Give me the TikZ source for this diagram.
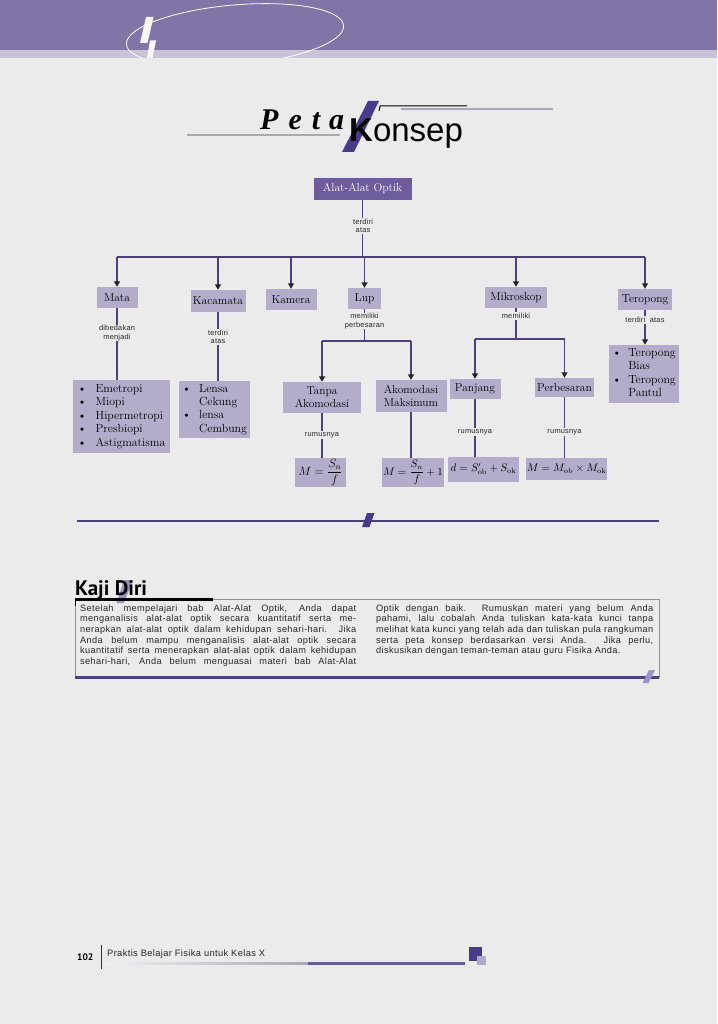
\documentclass[tikz,border=0pt]{standalone}
\usepackage{amsmath}
\usepackage{fontspec}
\usetikzlibrary{arrows.meta}
\newfontfamily\lblfont[LetterSpace=3]{Liberation Sans}
\newfontfamily\kjfont[LetterSpace=4]{Liberation Sans}
\newfontfamily\kjtitle{PT Sans}
\newfontfamily\petafont{Liberation Serif}
\newfontfamily\konfont{Liberation Sans}
\definecolor{pagebg}{HTML}{EBEBEB}
\definecolor{topc}{HTML}{8274A6}
\definecolor{bandc}{HTML}{C8C3D7}
\definecolor{boxc}{HTML}{B4ACCB}
\definecolor{rootc}{HTML}{6F5C9D}
\definecolor{linec}{HTML}{4E3F7F}
\definecolor{darkpur}{HTML}{4A3A8A}
\definecolor{lightpur}{HTML}{9D92C2}
\definecolor{greyline}{HTML}{A9A8B8}
\newcommand\boxfont{\fontsize{11.5}{13.2}\selectfont}
\tikzset{
  bx/.style={fill=boxc, inner sep=1pt, align=center, font=\boxfont},
  fx/.style={bx, font=\fontsize{12}{14}\selectfont},
  fxs/.style={bx, font=\fontsize{10.5}{12}\selectfont},
  lbl/.style={fill=pagebg, inner sep=0.8pt, align=center, font=\lblfont\fontsize{7.4}{8.2}\selectfont, text=black!85},
  ln/.style={draw=linec, line width=1.5pt},
  arr/.style={ln, -{Triangle[width=6pt,length=5.5pt,color=black!85]}},
  kj/.style={inner sep=0pt, anchor=north west, align=justify, font=\kjfont\fontsize{9.2}{10.6}\selectfont, text=black!85}
}
\begin{document}
\begin{tikzpicture}[x=1pt,y=-1pt]
\useasboundingbox (0,0) rectangle (717,1024);
\fill[pagebg] (0,0) rectangle (717,1024);
% header
\fill[topc] (0,0) rectangle (717,50);
\fill[bandc] (0,50) rectangle (717,58);
\begin{scope}
\clip (0,0) rectangle (717,58);
\draw[white, line width=0.8pt, rotate around={5:(235,35)}] (235,35) ellipse [x radius=109, y radius=30];
\end{scope}
\fill[white!93!gray] (146,17) -- (153.5,17) -- (147.5,43) -- (140,43) -- cycle;
\fill[white!93!gray] (150,40.5) -- (156,40.5) -- (152.5,58) -- (147,58) -- cycle;
% title
\draw[greyline, line width=2pt] (187,135) -- (340,135);
\fill[darkpur] (368,101) -- (379,101) -- (354,152) -- (342,152) -- cycle;
\node[anchor=base west, inner sep=0pt, font=\petafont\bfseries\itshape\fontsize{30}{30}\selectfont] (peta) at (260,130) {P\hspace{10pt}e\hspace{10pt}t\hspace{9pt}a};
\node[anchor=base west, inner sep=0pt, font=\konfont\fontsize{33}{33}\selectfont] (konsep) at (349,142) {\textbf{K}onsep};
\draw[black, line width=1pt] (379,111) -- (380,106) -- (467,106);
\draw[greyline, line width=2.2pt] (401,109) -- (553,109);
% concept map
\node[bx, fill=rootc, text=white, minimum width=98, minimum height=22] (root) at (362.5,189) {Alat-Alat Optik};
\node[bx, minimum width=41, minimum height=21] (mata) at (117,297.5) {Mata};
\node[bx, minimum width=55, minimum height=22] (kaca) at (218,301) {Kacamata};
\node[bx, minimum width=51, minimum height=21] (kamera) at (291,299.5) {Kamera};
\node[bx, minimum width=33, minimum height=21] (lup) at (364.5,298.5) {Lup};
\node[bx, minimum width=62, minimum height=21] (mikro) at (516,297.5) {Mikroskop};
\node[bx, minimum width=54, minimum height=21] (tero) at (645,299.5) {Teropong};
\coordinate (bus) at (363,257);
\draw[ln] (root.south) -- (root.south |- bus);
\draw[ln] (mata.north |- bus) -- (tero.north |- bus);
\foreach \n in {mata,kaca,kamera,lup,mikro,tero} \draw[arr] (\n.north |- bus) -- (\n.north);
\node[lbl] (l0) at (363,226) {terdiri\\atas};
% Mata
\node[bx, minimum width=97, minimum height=73, font=\fontsize{11.8}{13.6}\selectfont] (matalist) at (121.5,416.5)
 {\begin{tabular}{@{}l@{\hspace{9pt}}l@{}}\textbullet&Emetropi\\ \textbullet&Miopi\\ \textbullet&Hipermetropi\\ \textbullet&Presbiopi\\ \textbullet&Astigmatisma\end{tabular}};
\draw[ln] (mata.south) -- (mata.south |- matalist.north);
\node[lbl] (l1) at (117,333) {dibedakan\\menjadi};
% Kacamata
\node[bx, minimum width=71, minimum height=57, font=\fontsize{11.8}{13.4}\selectfont] (kacalist) at (214.5,409.5)
 {\begin{tabular}{@{}l@{\hspace{8pt}}l@{}}\textbullet&Lensa\\ &Cekung\\ \textbullet&lensa\\ &Cembung\end{tabular}};
\draw[ln] (kaca.south) -- (kaca.south |- kacalist.north);
\node[lbl] (l2) at (218,337) {terdiri\\atas};
% Lup
\node[bx, minimum width=78, minimum height=31] (tanpa) at (322,397.5) {Tanpa\\Akomodasi};
\node[bx, minimum width=71, minimum height=32] (akmaks) at (411,396) {Akomodasi\\Maksimum};
\coordinate (lupbus) at (364.5,341);
\draw[ln] (lup.south) -- (lupbus);
\draw[ln] (tanpa.north |- lupbus) -- (akmaks.north |- lupbus);
\draw[arr] (tanpa.north |- lupbus) -- (tanpa.north);
\draw[arr] (akmaks.north |- lupbus) -- (akmaks.north);
\node[lbl] (l3) at (364.5,321) {memiliki\\perbesaran};
\node[fx, minimum width=51, minimum height=29] (f1) at (320.5,472.5) {$M=\dfrac{S_n}{f}$};
\node[fxs, minimum width=58, minimum height=29] (f2) at (413,472.5) {$M=\dfrac{S_n}{f}+1$};
\draw[ln] (tanpa.south) -- (tanpa.south |- f1.north);
\node[lbl] (l4) at (322,435) {rumusnya};
\draw[ln] (akmaks.south) -- (akmaks.south |- f2.north);
% Mikroskop
\node[bx, minimum width=51, minimum height=20] (panjang) at (475,389) {Panjang};
\node[bx, minimum width=59, minimum height=19] (perbes) at (564.5,387.5) {Perbesaran};
\coordinate (mikbus) at (516,339);
\draw[ln] (mikro.south) -- (mikbus);
\draw[ln] (panjang.north |- mikbus) -- (perbes.north |- mikbus);
\draw[arr] (panjang.north |- mikbus) -- (panjang.north);
\draw[arr] (perbes.north |- mikbus) -- (perbes.north);
\node[lbl] (l5) at (516,316) {memiliki};
\node[fxs, minimum width=71, minimum height=25] (f3) at (483.5,469.5) {$d=S'_{\mathrm{ob}}+S_{\mathrm{ok}}$};
\node[fxs, minimum width=75, minimum height=22] (f4) at (566.5,469) {$M=M_{\mathrm{ob}}\times M_{\mathrm{ok}}$};
\draw[ln] (panjang.south) -- (panjang.south |- f3.north);
\draw[ln] (perbes.south) -- (perbes.south |- f4.north);
\node[lbl] (l6) at (475,432) {rumusnya};
\node[lbl] (l7) at (564.5,432) {rumusnya};
% Teropong
\node[bx, minimum width=70, minimum height=58, font=\fontsize{11.8}{13.4}\selectfont] (terolist) at (644,374)
 {\begin{tabular}{@{}l@{\hspace{7pt}}l@{}}\textbullet&Teropong\\ &Bias\\ \textbullet&Teropong\\ &Pantul\end{tabular}};
\draw[arr] (tero.south) -- (tero.south |- terolist.north);
\node[lbl] (l8) at (645,320) {terdiri\ \ atas};
% divider
\draw[linec, line width=1.3pt] (77,521) -- (659,521);
\fill[darkpur] (367,513) -- (374.5,513) -- (369.5,527) -- (362,527) -- cycle;
% Kaji Diri
\fill[lightpur] (124,580) -- (133,580) -- (124,603) -- (116.5,603) -- cycle;
\node[anchor=base west, inner sep=0pt, font=\kjtitle\bfseries\fontsize{21}{21}\selectfont] (kaji) at (75,595) {Kaji Diri};
\draw[gray!70!boxc, line width=0.6pt] (75,599) rectangle (659,677);
\draw[black, line width=2.5pt] (75,599.5) -- (213,599.5);
\draw[black, line width=1.2pt] (75.6,599) -- (75.6,606);
\draw[linec, line width=3.5pt] (75,677.5) -- (659,677.5);
\fill[lightpur] (649,670) -- (655,670) -- (648.5,683) -- (642.5,683) -- cycle;
\node[kj, text width=276] (col1) at (80,604.5) {\hyphenpenalty=10000\exhyphenpenalty=10000\tolerance=10000\parfillskip=0pt
Setelah mempelajari bab Alat-Alat Optik, Anda dapat\linebreak
menganalisis alat-alat optik secara kuantitatif serta me-\linebreak
nerapkan alat-alat optik dalam kehidupan sehari-hari. Jika\linebreak
Anda belum mampu menganalisis alat-alat optik secara\linebreak
kuantitatif serta menerapkan alat-alat optik dalam kehidupan\linebreak
sehari-hari, Anda belum menguasai materi bab Alat-Alat\par};
\node[kj, text width=277] (col2) at (376,604.5) {\hyphenpenalty=10000\exhyphenpenalty=10000\tolerance=10000
Optik dengan baik. Rumuskan materi yang belum Anda\linebreak
pahami, lalu cobalah Anda tuliskan kata-kata kunci tanpa\linebreak
melihat kata kunci yang telah ada dan tuliskan pula rangkuman\linebreak
serta peta konsep berdasarkan versi Anda. Jika perlu,\linebreak
diskusikan dengan teman-teman atau guru Fisika Anda.\par};
% footer
\node[anchor=base west, inner sep=0pt, font=\kjtitle\bfseries\fontsize{9.5}{10}\selectfont] (pg) at (77,960) {102};
\draw[black!80, line width=0.6pt] (101.5,945) -- (101.5,969);
\node[anchor=base west, inner sep=0pt, font=\kjfont\fontsize{9.3}{10}\selectfont, text=black!85] (book) at (107,956.5) {Praktis Belajar Fisika untuk Kelas X};
\shade[left color=gray!12, right color=greyline] (107,962) rectangle (308,964.5);
\fill[linec!85] (308,962) rectangle (465,964.5);
\fill[darkpur] (469,947) rectangle (482,961);
\fill[lightpur!80] (477,956) rectangle (486,965);
\end{tikzpicture}
\end{document}
